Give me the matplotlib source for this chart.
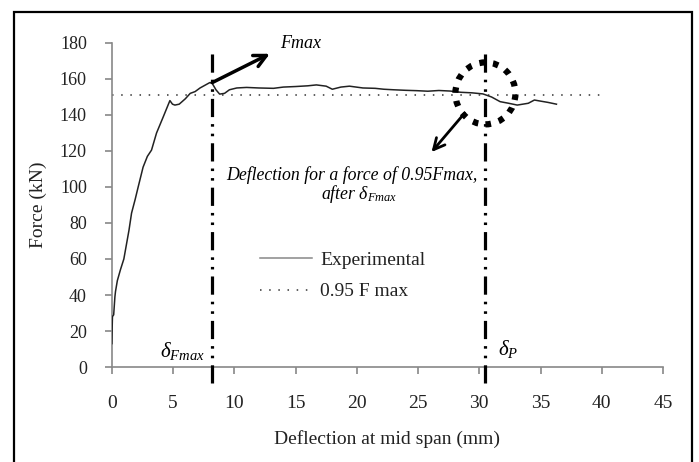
import matplotlib
matplotlib.use('Agg')
import matplotlib.pyplot as plt
from matplotlib.patches import Ellipse, Rectangle

plt.rcParams['font.family'] = ['Liberation Serif', 'DejaVu Serif']
plt.rcParams['mathtext.fontset'] = 'custom'
plt.rcParams['mathtext.rm'] = 'Liberation Serif'
plt.rcParams['mathtext.it'] = 'Liberation Serif:italic'

# experimental force-deflection curve
deflection = [0, 0.02, 0.05, 0.15, 0.25, 0.3, 0.45, 0.7, 0.98, 1.4, 1.61, 1.9, 2.15,
              2.55, 2.9, 3.24, 3.65, 4.2, 4.5, 4.74, 4.95, 5.15, 5.5, 6.0, 6.4, 6.8,
              7.2, 7.6, 8.0, 8.2, 8.5, 8.8, 9.2, 9.6, 10.2, 11, 12, 13.2, 14, 15, 16,
              16.7, 17.5, 18, 18.7, 19.4, 20.5, 21.5, 22.2, 23, 24, 24.9, 25.8, 26.7,
              27.6, 28.5, 29.4, 30.3, 31, 31.7, 32.4, 33.1, 34, 34.5, 35.0, 35.6, 36.3]
force = [13, 20, 28, 29, 39, 42, 48, 54, 60, 76, 85.5, 93, 100,
         111, 117, 120.5, 130, 139, 144, 148, 146, 145.5, 146, 149, 152, 153,
         155, 156.5, 158, 157.5, 154, 151.6, 152, 154, 155, 155.3, 155, 154.8, 155.5, 155.8, 156.2,
         156.7, 156, 154.3, 155.5, 156, 155, 154.8, 154.3, 154, 153.7, 153.5, 153.2, 153.6,
         153.3, 152.6, 152.3, 151.7, 150, 147.4, 146.5, 145.5, 146.5, 148.3, 147.7, 147, 146]

f_095 = 151
x_095 = [0, 40]
d_fmax = 8.2
d_p = 30.5
f_max = 158

x_ticks = [0, 5, 10, 15, 20, 25, 30, 35, 40, 45]
y_ticks = [0, 20, 40, 60, 80, 100, 120, 140, 160, 180]

fig = plt.figure(figsize=(6.99, 4.62), dpi=100)
ax = fig.add_axes([0.160, 0.2056, 0.7885, 0.7014])

ax.plot(deflection, force, color='#222222', lw=1.1, label='Experimental', zorder=3)
ax.plot(x_095, [f_095, f_095], color='#333333', lw=1.1, ls=(0, (1, 5)), label='0.95 F max')

dd = (0, (5.7, 2.2, 0.8, 2.2, 0.8, 2.2))
for xv in (d_fmax, d_p):
    ax.plot([xv, xv], [-9, 175], color='black', lw=2.3, ls=dd, clip_on=False, zorder=4)

circ = Ellipse((d_p, 152), 4.9, 34.4, fill=False, ec='black', lw=4.5,
               ls=(0, (0.9, 1.3)), zorder=5)
ax.add_patch(circ)

ax.annotate('', xy=(12.9, 174), xytext=(d_fmax, f_max),
            arrowprops=dict(arrowstyle='->', lw=2.5, color='black', mutation_scale=22,
                            shrinkA=0, shrinkB=0))
ax.text(13.7, 179.5, 'Fmax', style='italic', fontsize=13, va='center', ha='left')

ax.annotate('', xy=(26.1, 119.4), xytext=(28.8, 141),
            arrowprops=dict(arrowstyle='->', lw=2.0, color='black', mutation_scale=20,
                            shrinkA=0, shrinkB=0))
ax.text(19.6, 106.7, 'Deflection for a force of 0.95Fmax,', style='italic', fontsize=12.8,
        ha='center', va='center')
ax.text(20.2, 96.0, r'after $\delta_{Fmax}$', style='italic', fontsize=12.8,
        ha='center', va='center')

ax.text(7.6, 5.5, r'$\delta_{Fmax}$', fontsize=15, ha='right', va='baseline')
ax.text(31.5, 6.5, r'$\delta_{P}$', fontsize=15, ha='left', va='baseline')

ax.set_xlim(0, 45)
ax.set_ylim(0, 180)
ax.set_xticks(x_ticks)
ax.set_yticks(y_ticks)
for s in ('top', 'right'):
    ax.spines[s].set_visible(False)
for s in ('left', 'bottom'):
    ax.spines[s].set_color('#888888')
    ax.spines[s].set_linewidth(1.2)
ax.tick_params(axis='both', colors='#888888', labelcolor='#222222',
               length=5, width=1.2)
ax.tick_params(axis='x', pad=15, labelsize=14)
ax.tick_params(axis='y', pad=13, labelsize=13)

ax.set_ylabel('Force (kN)', fontsize=14, color='#222222')
ax.set_xlabel('Deflection at mid span (mm)', fontsize=14, color='#222222')
ax.yaxis.set_label_coords(-0.118, 0.5)
ax.xaxis.set_label_coords(0.5, -0.194)

leg = ax.legend(loc='upper left', bbox_to_anchor=(0.2686, 0.357), frameon=False,
                fontsize=14, handlelength=2.7, handletextpad=0.4, labelspacing=0.71,
                borderpad=0, borderaxespad=0)
leg.get_lines()[0].set_color('#888888')
for t in leg.get_texts():
    t.set_color('#222222')

border = Rectangle((14 / 699, -0.02), 678 / 699, 0.02 + 450 / 462, transform=fig.transFigure,
                   fill=False, ec='black', lw=1.6, clip_on=False)
fig.patches.append(border)

fig.savefig('out.png', dpi=100)
